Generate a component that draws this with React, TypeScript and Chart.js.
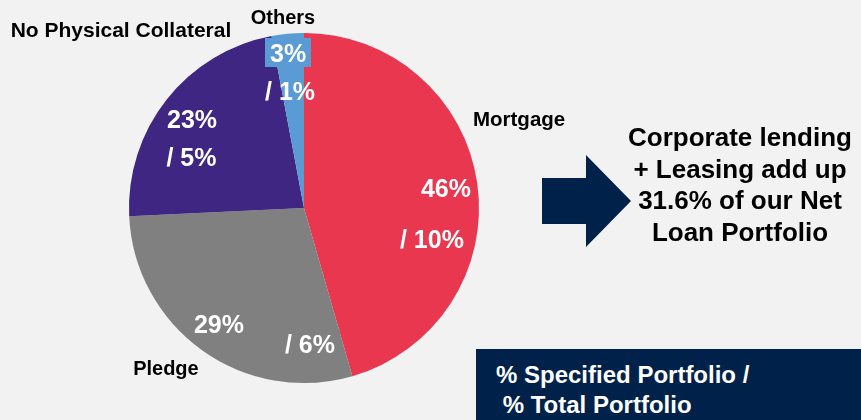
import React, { useEffect, useRef } from "react";
import { Chart, registerables } from "chart.js";

Chart.register(...registerables);

const categories = ["Mortgage", "Pledge", "No Physical Collateral", "Others"];
const specifiedPct = [46, 29, 23, 3];
const totalPct = [10, 6, 5, 1];
const sliceColors = ["#E8374F", "#808080", "#3F2682", "#5B9BD5"];

const noteLines = ["Corporate lending", "+ Leasing add up", "31.6% of our Net", "Loan Portfolio"];
const boxLines = ["% Specified Portfolio /", " % Total Portfolio"];

const FONT = '"Liberation Sans", Arial, sans-serif';

// label placement, as fractions of the pie radius from its centre
const valuePos = [[0.811, -0.114], [-0.486, 0.663], [-0.64, -0.509], [-0.091, -0.886]];
const sharePos = [[0.731, 0.177], [0.034, 0.777], [-0.643, -0.291], [-0.08, -0.669]];
const namePos = [[1.229, -0.509], [-0.789, 0.914], [-1.046, -1.02], [-0.12, -1.091]];
const nameSize = [20.5, 20, 21, 20];
const valueBg = [false, false, false, true];
const shareBg = [false, true, false, false];

const labelPlugin = {
  id: "sliceLabels",
  afterDatasetsDraw(chart: any) {
    const ctx = chart.ctx as CanvasRenderingContext2D;
    const meta = chart.getDatasetMeta(0);
    const arc0 = meta.data[0] as any;
    const cx = arc0.x;
    const cy = arc0.y;
    const r = arc0.outerRadius;
    const drawText = (
      txt: string,
      fx: number,
      fy: number,
      size: number,
      color: string,
      bg?: string
    ) => {
      ctx.save();
      ctx.font = `bold ${size}px ${FONT}`;
      const x = cx + fx * r;
      const y = cy + fy * r;
      if (bg) {
        const w = ctx.measureText(txt).width + 10;
        const h = 29;
        ctx.fillStyle = bg;
        ctx.fillRect(Math.round(x - w / 2), Math.round(y - h / 2), Math.round(w), h);
      }
      ctx.fillStyle = color;
      ctx.textAlign = "center";
      ctx.textBaseline = "alphabetic";
      ctx.fillText(txt, x, y + size * 0.358);
      ctx.restore();
    };
    categories.forEach((name, i) => {
      drawText(`${specifiedPct[i]}%`, valuePos[i][0], valuePos[i][1], 25, "#FFFFFF", valueBg[i] ? sliceColors[i] : undefined);
      drawText(`/ ${totalPct[i]}%`, sharePos[i][0], sharePos[i][1], 25, "#FFFFFF", shareBg[i] ? sliceColors[i] : undefined);
      drawText(name, namePos[i][0], namePos[i][1], nameSize[i], "#000000");
    });
    // arrow
    ctx.save();
    ctx.fillStyle = "#00224A";
    ctx.beginPath();
    ctx.moveTo(542, 178);
    ctx.lineTo(586, 178);
    ctx.lineTo(586, 155);
    ctx.lineTo(631, 201);
    ctx.lineTo(586, 247);
    ctx.lineTo(586, 224);
    ctx.lineTo(542, 224);
    ctx.closePath();
    ctx.fill();
    ctx.restore();
  },
};

export default function App() {
  const ref = useRef<HTMLCanvasElement | null>(null);
  useEffect(() => {
    if (!ref.current) return;
    const chart = new Chart(ref.current, {
      type: "pie",
      data: {
        labels: categories,
        datasets: [
          {
            data: specifiedPct,
            backgroundColor: sliceColors,
            borderWidth: 0,
          },
        ],
      },
      options: {
        responsive: false,
        animation: false,
        layout: { padding: { left: 129, right: 382, top: 33, bottom: 37 } },
        plugins: {
          legend: { display: false },
          tooltip: { enabled: false },
        },
      },
      plugins: [labelPlugin],
    });
    return () => chart.destroy();
  }, []);

  return (
    <div
      style={{
        position: "absolute",
        left: 0,
        top: 0,
        width: 861,
        height: 420,
        background: "#F2F2F2",
        overflow: "hidden",
      }}
    >
      <canvas ref={ref} width={861} height={420} style={{ position: "absolute", left: 0, top: 0 }} />
      <div
        style={{
          position: "absolute",
          left: 600,
          top: 122,
          width: 280,
          textAlign: "center",
          fontFamily: FONT,
          fontWeight: "bold",
          fontSize: 26,
          lineHeight: "31.5px",
          color: "#000",
          whiteSpace: "nowrap",
        }}
      >
        {noteLines.map((l) => (
          <div key={l}>{l}</div>
        ))}
      </div>
      <div
        style={{
          position: "absolute",
          left: 476,
          top: 349,
          width: 385,
          height: 71,
          background: "#00224A",
          boxSizing: "border-box",
          paddingLeft: 20,
          paddingTop: 11,
          fontFamily: FONT,
          fontWeight: "bold",
          fontSize: 24,
          lineHeight: "30px",
          color: "#FFFFFF",
          whiteSpace: "pre",
        }}
      >
        {boxLines.map((l) => (
          <div key={l}>{l}</div>
        ))}
      </div>
    </div>
  );
}
